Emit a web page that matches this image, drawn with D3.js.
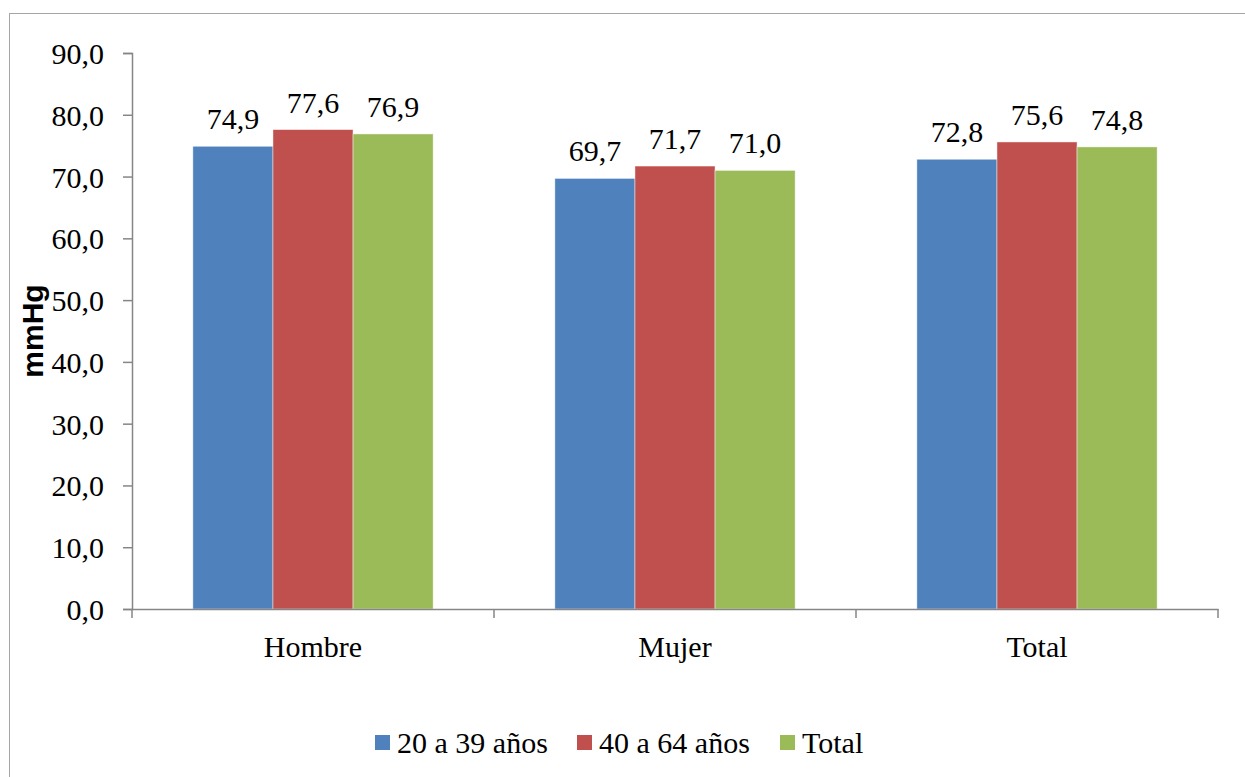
<!DOCTYPE html>
<html>
<head>
<meta charset="utf-8">
<script src="https://cdn.jsdelivr.net/npm/d3@7"></script>
</head>
<body style="margin:0">
<svg id="chart" width="1245" height="777" font-family="Liberation Serif"></svg>
<script>
// Presión arterial diastólica media (mmHg) por sexo y grupo de edad
const categories = ["Hombre", "Mujer", "Total"];
const seriesNames = ["20 a 39 años", "40 a 64 años", "Total"];
const values20a39 = [74.9, 69.7, 72.8];
const values40a64 = [77.6, 71.7, 75.6];
const valuesTotal = [76.9, 71.0, 74.8];
const yTicks = [0, 10, 20, 30, 40, 50, 60, 70, 80, 90];
const colors = ["#4F81BD", "#C0504D", "#9BBB59"];

const seriesValues = [values20a39, values40a64, valuesTotal];
const rows = categories.map((c, i) => ({
  category: c,
  values: seriesNames.map((s, j) => ({ series: s, value: seriesValues[j][i] }))
}));

const svg = d3.select("#chart");
const fmt = v => d3.format(".1f")(v).replace(".", ",");
const SERIF = "Liberation Serif";
const SANS = "Liberation Sans";

function serifText(sel) {
  return sel.attr("font-family", SERIF).style("font-family", SERIF)
    .attr("font-size", 30).style("font-size", "30px").attr("fill", "#000");
}

// chart frame
svg.append("rect")
  .attr("x", 9.5).attr("y", 13.5)
  .attr("width", 1260).attr("height", 790)
  .attr("fill", "none").attr("stroke", "#a6a6a6").attr("stroke-width", 1);

const plot = { left: 132, right: 1218, top: 53, bottom: 609 };

const x = d3.scaleBand().domain(categories).range([plot.left, plot.right]).padding(0);
const xInner = d3.scaleBand().domain(seriesNames).range([0, x.bandwidth()])
  .paddingInner(0).paddingOuter(0.76);
const y = d3.scaleLinear().domain([0, 90]).range([plot.bottom, plot.top]);
const color = d3.scaleOrdinal().domain(seriesNames).range(colors);

// y axis
const yAxis = svg.append("g")
  .attr("transform", `translate(${plot.left},0)`)
  .call(d3.axisLeft(y).tickValues(yTicks).tickFormat(fmt).tickSize(9).tickPadding(19));
yAxis.attr("font-family", SERIF).attr("font-size", 30);
yAxis.select(".domain").attr("stroke", "#868686").attr("stroke-width", 1.5);
yAxis.selectAll(".tick line").attr("stroke", "#868686").attr("stroke-width", 1.5);
serifText(yAxis.selectAll(".tick text")).attr("dy", "0.35em");

// bars
const groups = svg.append("g").selectAll("g")
  .data(rows).join("g")
  .attr("transform", d => `translate(${x(d.category)},0)`);

groups.selectAll("rect")
  .data(d => d.values).join("rect")
  .attr("x", d => xInner(d.series))
  .attr("y", d => y(d.value))
  .attr("width", xInner.bandwidth())
  .attr("height", d => y(0) - y(d.value))
  .attr("fill", d => color(d.series))
  .attr("stroke", "rgba(255,255,255,0.55)")
  .attr("stroke-width", 0.8);

// value labels
serifText(groups.selectAll("text")
  .data(d => d.values).join("text")
  .attr("x", d => xInner(d.series) + xInner.bandwidth() / 2)
  .attr("y", d => y(d.value) - 17)
  .attr("text-anchor", "middle"))
  .text(d => fmt(d.value));

// x axis
const xAxis = svg.append("g")
  .attr("transform", `translate(0,${plot.bottom})`)
  .call(d3.axisBottom(x).tickSize(0).tickPadding(0).tickFormat(""));
xAxis.attr("font-family", SERIF).attr("font-size", 30);
xAxis.select(".domain").attr("stroke", "#868686").attr("stroke-width", 1.5);
xAxis.selectAll(".tick").remove();

// category boundary ticks
const bounds = categories.map(c => x(c)).concat([x(categories[categories.length - 1]) + x.bandwidth()]);
xAxis.selectAll("line.bound")
  .data(bounds).join("line")
  .attr("class", "bound")
  .attr("x1", d => d).attr("x2", d => d)
  .attr("y1", 0).attr("y2", 9)
  .attr("stroke", "#868686").attr("stroke-width", 1.5);

// category labels
serifText(xAxis.selectAll("text.cat")
  .data(categories).join("text")
  .attr("class", "cat")
  .attr("x", d => x(d) + x.bandwidth() / 2)
  .attr("y", 48)
  .attr("text-anchor", "middle"))
  .text(d => d);

// y axis title
svg.append("text")
  .attr("transform", "translate(43,331) rotate(-90)")
  .attr("text-anchor", "middle")
  .attr("font-family", SANS).style("font-family", SANS)
  .attr("font-weight", "bold").attr("font-size", 30)
  .style("font-weight", "bold").style("font-size", "30px").attr("fill", "#000")
  .text("mmHg");

// legend
const legendX = [375, 577, 780];
const legend = svg.append("g").selectAll("g")
  .data(seriesNames).join("g")
  .attr("transform", (d, i) => `translate(${legendX[i]},735)`);
legend.append("rect")
  .attr("width", 15).attr("height", 15)
  .attr("fill", d => color(d));
serifText(legend.append("text")
  .attr("x", 22).attr("y", 18))
  .text(d => d);
</script>
</body>
</html>
